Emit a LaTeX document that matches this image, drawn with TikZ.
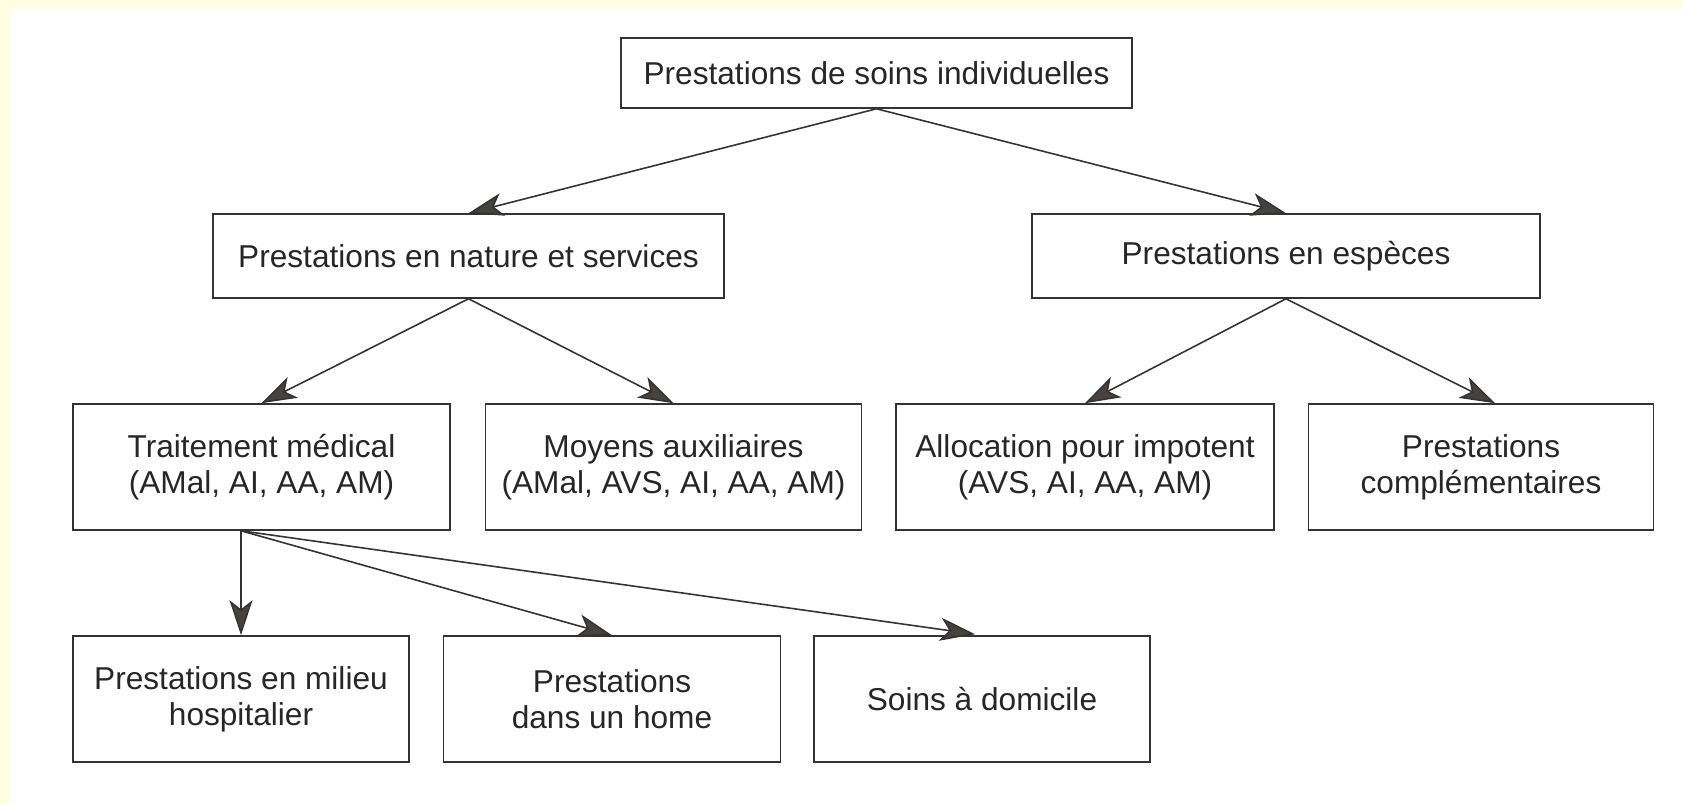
\documentclass[tikz,border=0pt]{standalone}
\usepackage{fontspec}
\setmainfont{Liberation Sans}
\usetikzlibrary{positioning,arrows.meta}
\definecolor{pageyellow}{HTML}{FFFFDF}
\definecolor{boxline}{HTML}{333333}
\definecolor{tipgray}{HTML}{45433B}

\begin{document}
\begin{tikzpicture}[x=0.02cm,y=-0.02cm,node distance=0.66cm,
  box/.style={draw=boxline,line width=0.9pt,align=center,inner sep=0pt,
    font=\fontsize{18}{20.5}\selectfont,text=black!85},
  arrow/.style={draw=boxline,line width=0.9pt,
    -{Stealth[length=0.7cm,width=0.46cm,inset=0.18cm,fill=tipgray]}}]

\useasboundingbox (0,0) rectangle (1683,804);
\fill[pageyellow] (0,0) rectangle (1683,804);
\fill[white] (9,8) rectangle (1683,804);

\node[box,minimum width=10.22cm,minimum height=1.4cm](top) at (876.5,73){Prestations de soins individuelles};
\node[box,minimum width=10.22cm,minimum height=1.68cm](nature) at (468.5,256){Prestations en nature et services};
\node[box,minimum width=10.16cm,minimum height=1.68cm](especes) at (1286,256){Prestations en espèces};

\node[box,minimum width=7.54cm,minimum height=2.52cm](trt) at (261.5,467){Traitement médical\\(AMal, AI, AA, AM)};
\node[box,minimum width=7.52cm,minimum height=2.52cm](moyens)[right=0.68cm of trt]{Moyens auxiliaires\\(AMal, AVS, AI, AA, AM)};
\node[box,minimum width=7.56cm,minimum height=2.52cm](alloc)[right=of moyens]{Allocation pour impotent\\(AVS, AI, AA, AM)};
\node[box,minimum width=6.9cm,minimum height=2.52cm](compl)[right=of alloc]{Prestations\\complémentaires};

\node[box,minimum width=6.72cm,minimum height=2.52cm](hosp) at (241,699){Prestations en milieu\\hospitalier};
\node[box,minimum width=6.74cm,minimum height=2.52cm](home)[right=of hosp]{Prestations\\dans un home};
\node[box,minimum width=6.72cm,minimum height=2.52cm](soins)[right=0.64cm of home]{Soins à domicile};

\path(top.south)edge[arrow](nature.north)
	(top.south)edge[arrow](especes.north)
	(nature.south)edge[arrow](trt.north)
	(nature.south)edge[arrow](moyens.north)
	(especes.south)edge[arrow](alloc.north)
	(especes.south)edge[arrow]([xshift=0.28cm]compl.north)
	(trt.south -| hosp.north)edge[arrow](hosp.north)
	(trt.south -| hosp.north)edge[arrow](home.north)
	(trt.south -| hosp.north)edge[arrow,shorten >=0.14cm](soins.north);

\end{tikzpicture}
\end{document}
